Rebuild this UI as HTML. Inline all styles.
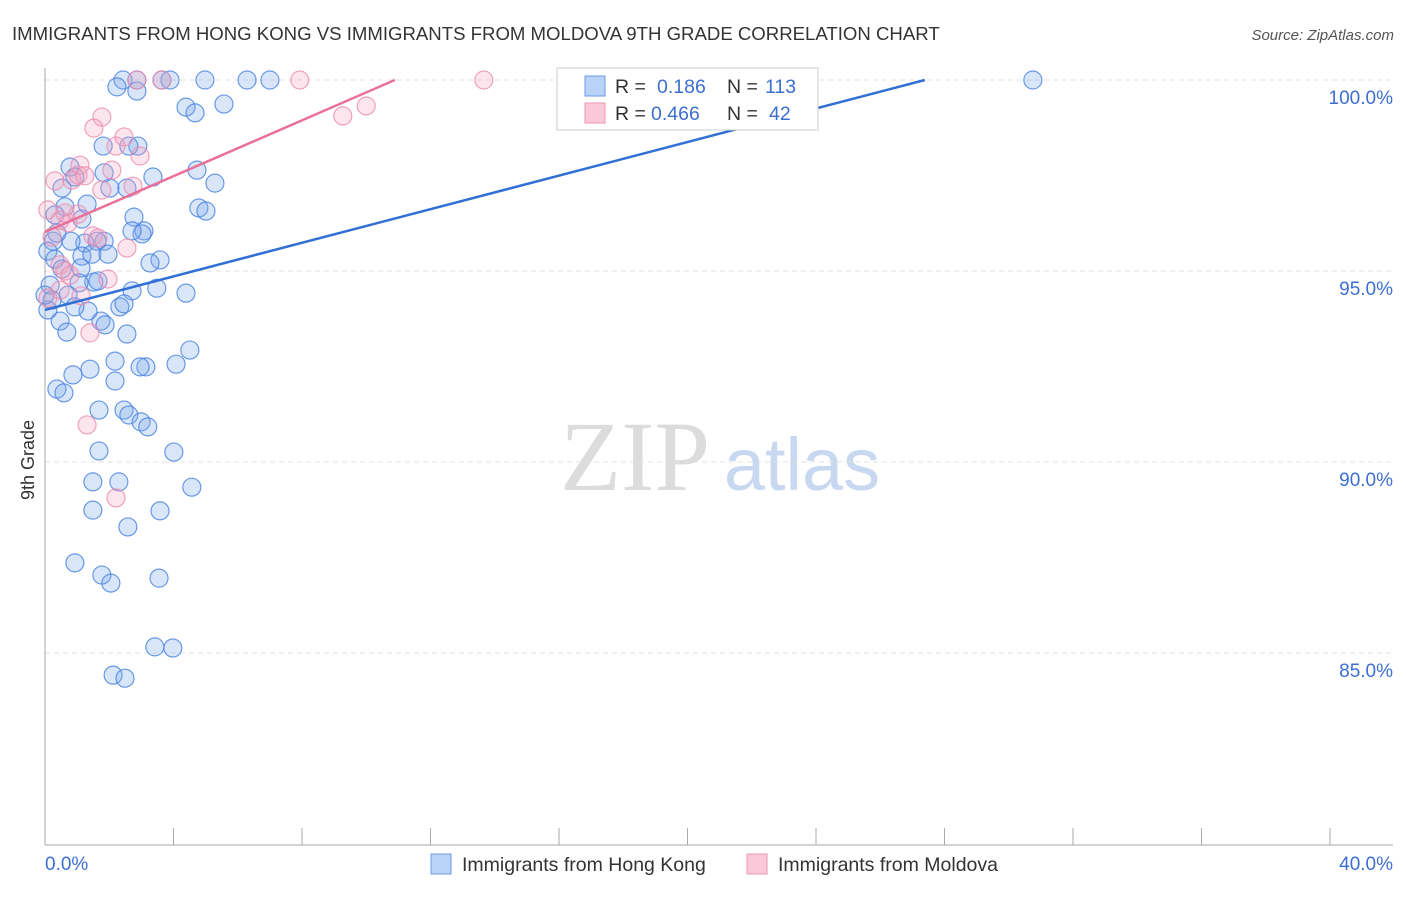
<!DOCTYPE html>
<html><head><meta charset="utf-8"><style>
body{margin:0;background:#fff;font-family:"Liberation Sans",sans-serif}
</style></head><body>
<svg id="c" width="1406" height="892" font-family="Liberation Sans, sans-serif">
<text x="12" y="40" font-size="18.6" fill="#333">IMMIGRANTS FROM HONG KONG VS IMMIGRANTS FROM MOLDOVA 9TH GRADE CORRELATION CHART</text>
<text x="1394" y="40" font-size="15" fill="#555" font-style="italic" text-anchor="end">Source: ZipAtlas.com</text>
<g>
<text x="635" y="490" font-size="100" fill="#dcdcdc" style="font-family:'Liberation Serif',serif" text-anchor="middle">ZIP</text>
<text x="802" y="490" font-size="74" fill="#c8d8f0" text-anchor="middle">atlas</text>
</g>
<g id="grid"></g><g id="axes"></g><g id="pts"></g><g id="lines"></g>
<text x="34" y="460" font-size="18" fill="#333" transform="rotate(-90 34 460)" text-anchor="middle">9th Grade</text>
<g>
<rect x="557" y="68" width="261" height="62" fill="#fff" stroke="#ccc"/>
<rect x="585" y="76" width="20" height="20" fill="#b9d2f7" stroke="#6a9ae6"/>
<rect x="585" y="103" width="20" height="20" fill="#fac8d8" stroke="#ec97b3"/>
<text x="615" y="93" font-size="19.5" fill="#333">R =</text>
<text x="657" y="93" font-size="19.5" fill="#3d6fd1">0.186</text>
<text x="727" y="93" font-size="19.5" fill="#333">N =</text>
<text x="765" y="93" font-size="19.5" fill="#3d6fd1">113</text>
<text x="615" y="120" font-size="19.5" fill="#333">R =</text>
<text x="651" y="120" font-size="19.5" fill="#3d6fd1">0.466</text>
<text x="727" y="120" font-size="19.5" fill="#333">N =</text>
<text x="769" y="120" font-size="19.5" fill="#3d6fd1">42</text>
</g>
<g>
<rect x="431" y="854" width="20" height="20" fill="#b9d2f7" stroke="#6a9ae6"/>
<text x="462" y="871" font-size="19.5" fill="#333">Immigrants from Hong Kong</text>
<rect x="747" y="854" width="20" height="20" fill="#fac8d8" stroke="#ec97b3"/>
<text x="778" y="871" font-size="19.5" fill="#333">Immigrants from Moldova</text>
</g>
</svg>
<script>
const yTicks=[100,95,90,85];
const yTickLabels=["100.0%","95.0%","90.0%","85.0%"];
const xTickLabels=["0.0%","40.0%"];
const blueX=[2.43,2.86,3.64,3.89,4.98,6.29,7.00,30.75,2.24,2.86,4.39,4.67,5.57,2.89,2.61,1.81,0.78,0.93,0.53,1.84,2.02,2.55,3.36,4.73,5.29,4.79,5.01,2.77,1.15,0.62,1.31,0.31,3.08,3.02,2.71,3.58,3.27,1.84,1.62,1.24,0.81,0.25,0.09,0.31,0.37,1.15,1.46,1.96,0.53,1.12,1.52,1.06,0.72,1.65,3.48,4.39,2.71,2.33,2.46,1.74,1.87,1.34,0.93,0.47,0.68,2.55,4.51,4.08,3.14,2.96,2.18,1.40,0.87,0.37,0.59,2.18,1.68,2.46,2.61,2.99,3.20,1.68,4.01,1.49,2.30,4.57,1.49,3.58,2.58,0.93,1.77,2.05,3.55,3.42,3.98,2.12,2.49,0.16,0.22,0.09,0.0];
const blueY=[100,100,100,100,100,100,100,100,99.82,99.71,99.29,99.14,99.37,98.27,98.27,98.27,97.72,97.46,97.17,97.57,97.17,97.17,97.46,97.64,97.30,96.65,96.57,96.41,96.36,96.68,96.75,96.47,96.05,95.97,96.05,95.29,95.21,95.78,95.78,95.73,95.78,95.78,95.52,95.31,95.99,95.39,95.44,95.44,95.05,95.08,94.71,94.69,94.37,94.74,94.55,94.42,94.48,94.06,94.14,93.69,93.59,93.95,94.06,93.69,93.40,93.35,92.93,92.56,92.49,92.49,92.64,92.43,92.28,91.91,91.81,92.12,91.36,91.36,91.23,91.05,90.92,90.29,90.26,89.48,89.48,89.34,88.74,88.72,88.30,87.36,87.04,86.83,86.96,85.16,85.13,84.42,84.34,94.63,94.24,93.98,94.37];
const pinkX=[3.64,7.93,13.66,2.86,9.27,10.0,1.77,1.52,2.21,2.46,2.96,0.31,0.84,1.03,1.09,2.08,1.24,1.77,2.74,0.09,0.47,0.72,0.62,1.03,1.49,1.65,2.55,0.22,0.47,0.62,0.78,1.96,0.47,1.12,1.40,1.31,2.21,0.09];
const pinkY=[100,100,100,100,99.06,99.32,99.03,98.74,98.27,98.51,98.01,97.36,97.38,97.51,97.77,97.64,97.49,97.12,97.22,96.60,96.33,96.26,96.52,96.49,95.92,95.86,95.60,95.89,95.16,95.0,94.89,94.79,94.50,94.35,93.38,90.97,89.06,94.29];
const trendIntercept=[93.98,96.02];
const trendSlope=[0.2198,0.3655];

const NS="http://www.w3.org/2000/svg";
const sx=v=>45+v/40*1285;
const sy=v=>80+(100-v)*38.2;
function mk(t,a,p){const e=document.createElementNS(NS,t);for(const k in a)e.setAttribute(k,a[k]);document.getElementById(p).appendChild(e);return e;}
yTicks.forEach((t,i)=>{
 const g=mk('line',{x1:45,x2:1393,y1:sy(t),y2:sy(t),stroke:'#e0e0e0','stroke-dasharray':'5,4'},'grid');
 
 
 const l=mk('text',{x:1393,y:sy(t)+24,'font-size':19,fill:'#3d6fd1','text-anchor':'end'},'axes');
 l.textContent=yTickLabels[i];
 
 
});
const ya=mk('line',{x1:45,x2:45,y1:68,y2:845,stroke:'#aaa'},'axes');


const xa=mk('line',{x1:45,x2:1393,y1:845,y2:845,stroke:'#aaa'},'axes');


for(let i=0;i<=10;i++){
 const t=mk('line',{x1:sx(i*4),x2:sx(i*4),y1:828,y2:845,stroke:'#aaa'},'axes');
 
 
}
const xl0=mk('text',{x:45,y:870,'font-size':19,fill:'#3d6fd1'},'axes');xl0.textContent=xTickLabels[0];


const xl1=mk('text',{x:1393,y:870,'font-size':19,fill:'#3d6fd1','text-anchor':'end'},'axes');xl1.textContent=xTickLabels[1];


blueX.forEach((x,i)=>{
 const c=mk('circle',{cx:sx(x),cy:sy(blueY[i]),r:9,fill:'rgba(120,165,235,0.28)',stroke:'rgba(70,130,225,0.8)','stroke-width':1.2},'pts');
 
 
});
pinkX.forEach((x,i)=>{
 const c=mk('circle',{cx:sx(x),cy:sy(pinkY[i]),r:9,fill:'rgba(245,160,190,0.28)',stroke:'rgba(235,140,175,0.8)','stroke-width':1.2},'pts');
 
 
});
const cols=['#2f6fd6','#e8709a'];
const names=['trend-line-hong-kong','trend-line-moldova'];
trendIntercept.forEach((b,i)=>{
 const xEnd=Math.min(40,(100-b)/trendSlope[i]);
 const l=mk('line',{x1:sx(0),y1:sy(b),x2:sx(xEnd),y2:sy(b+trendSlope[i]*xEnd),stroke:cols[i],'stroke-width':2.5},'lines');
 
 
});
</script>
</body></html>
